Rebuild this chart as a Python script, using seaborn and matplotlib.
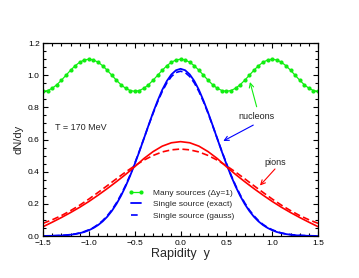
import matplotlib
matplotlib.use("Agg")
import matplotlib.pyplot as plt
from matplotlib.ticker import MultipleLocator
import seaborn as sns

# rapidity grid, step 0.05 (green markers + nucleon curves)
y_fine = [-1.50, -1.45, -1.40, -1.35, -1.30, -1.25, -1.20, -1.15, -1.10, -1.05,
          -1.00, -0.95, -0.90, -0.85, -0.80, -0.75, -0.70, -0.65, -0.60, -0.55,
          -0.50, -0.45, -0.40, -0.35, -0.30, -0.25, -0.20, -0.15, -0.10, -0.05,
          0.00, 0.05, 0.10, 0.15, 0.20, 0.25, 0.30, 0.35, 0.40, 0.45,
          0.50, 0.55, 0.60, 0.65, 0.70, 0.75, 0.80, 0.85, 0.90, 0.95,
          1.00, 1.05, 1.10, 1.15, 1.20, 1.25, 1.30, 1.35, 1.40, 1.45, 1.50]

# rapidity grid, step 0.1 (pion curves)
y_coarse = [-1.5, -1.4, -1.3, -1.2, -1.1, -1.0, -0.9, -0.8, -0.7, -0.6,
            -0.5, -0.4, -0.3, -0.2, -0.1, 0.0, 0.1, 0.2, 0.3, 0.4,
            0.5, 0.6, 0.7, 0.8, 0.9, 1.0, 1.1, 1.2, 1.3, 1.4, 1.5]

many_sources = [0.900, 0.905, 0.919, 0.941, 0.969, 1.000, 1.031, 1.059, 1.081, 1.095,
                1.100, 1.095, 1.081, 1.059, 1.031, 1.000, 0.969, 0.941, 0.919, 0.905,
                0.900, 0.905, 0.919, 0.941, 0.969, 1.000, 1.031, 1.059, 1.081, 1.095,
                1.100, 1.095, 1.081, 1.059, 1.031, 1.000, 0.969, 0.941, 0.919, 0.905,
                0.900, 0.905, 0.919, 0.941, 0.969, 1.000, 1.031, 1.059, 1.081, 1.095,
                1.100, 1.095, 1.081, 1.059, 1.031, 1.000, 0.969, 0.941, 0.919, 0.905,
                0.900]

nucl_exact = [0.000, 0.001, 0.001, 0.002, 0.003, 0.005, 0.008, 0.012, 0.018, 0.025,
              0.036, 0.050, 0.068, 0.091, 0.120, 0.156, 0.199, 0.250, 0.309, 0.375,
              0.448, 0.525, 0.606, 0.688, 0.768, 0.842, 0.909, 0.964, 1.005, 1.031,
              1.040, 1.031, 1.005, 0.964, 0.909, 0.842, 0.768, 0.688, 0.606, 0.525,
              0.448, 0.375, 0.309, 0.250, 0.199, 0.156, 0.120, 0.091, 0.068, 0.050,
              0.036, 0.025, 0.018, 0.012, 0.008, 0.005, 0.003, 0.002, 0.001, 0.001,
              0.000]

nucl_gauss = [0.001, 0.001, 0.002, 0.003, 0.004, 0.006, 0.009, 0.013, 0.019, 0.028,
              0.039, 0.053, 0.072, 0.096, 0.126, 0.162, 0.206, 0.257, 0.315, 0.380,
              0.452, 0.528, 0.607, 0.686, 0.763, 0.835, 0.899, 0.952, 0.992, 1.017,
              1.025, 1.017, 0.992, 0.952, 0.899, 0.835, 0.763, 0.686, 0.607, 0.528,
              0.452, 0.380, 0.315, 0.257, 0.206, 0.162, 0.126, 0.096, 0.072, 0.053,
              0.039, 0.028, 0.019, 0.013, 0.009, 0.006, 0.004, 0.003, 0.002, 0.001,
              0.001]

pion_exact = [0.058, 0.086, 0.115, 0.146, 0.179, 0.215, 0.254, 0.295, 0.338, 0.383,
              0.431, 0.482, 0.525, 0.559, 0.580, 0.587, 0.580, 0.559, 0.525, 0.482,
              0.431, 0.383, 0.338, 0.295, 0.254, 0.215, 0.179, 0.146, 0.115, 0.086,
              0.058]

pion_gauss = [0.079, 0.101, 0.127, 0.158, 0.192, 0.230, 0.271, 0.313, 0.356, 0.398,
              0.437, 0.472, 0.501, 0.523, 0.536, 0.541, 0.536, 0.523, 0.501, 0.472,
              0.437, 0.398, 0.356, 0.313, 0.271, 0.230, 0.192, 0.158, 0.127, 0.101,
              0.079]

GREEN = "#11ee11"
BLUE = "#0000ff"
RED = "#ff0000"

sns.set_style("ticks")
plt.rcParams["font.family"] = ["Liberation Sans", "DejaVu Sans"]

fig = plt.figure(figsize=(3.59, 2.78), dpi=100)
ax = fig.add_axes([0.120, 0.151, 0.766, 0.694])

sns.lineplot(x=y_fine, y=many_sources, ax=ax, color=GREEN, lw=0.9,
             marker="o", markersize=3.0, markeredgewidth=0,
             label="Many sources (\u0394y=1)")
sns.lineplot(x=y_fine, y=nucl_exact, ax=ax, color=BLUE, lw=1.3,
             label="Single source (exact)")
sns.lineplot(x=y_fine, y=nucl_gauss, ax=ax, color=BLUE, lw=1.2,
             dashes=(4, 2), label="Single source (gauss)")
sns.lineplot(x=y_coarse, y=pion_exact, ax=ax, color=RED, lw=1.2)
sns.lineplot(x=y_coarse, y=pion_gauss, ax=ax, color=RED, lw=1.2, dashes=(4, 2))

ax.set_xlim(-1.5, 1.5)
ax.set_ylim(0.0, 1.2)
ax.xaxis.set_major_locator(MultipleLocator(0.5))
ax.xaxis.set_minor_locator(MultipleLocator(0.1))
ax.yaxis.set_major_locator(MultipleLocator(0.2))
ax.yaxis.set_minor_locator(MultipleLocator(0.05))
ax.tick_params(which="both", direction="in", top=True, right=True,
               width=0.8, colors="black", labelsize=6)
ax.tick_params(axis="x", pad=3)
ax.tick_params(axis="y", pad=2.5)
ax.tick_params(which="major", length=3.5)
ax.tick_params(which="minor", length=2)
for s in ax.spines.values():
    s.set_linewidth(0.9)
    s.set_color("black")

ax.set_xlabel("Rapidity  y", fontsize=9, labelpad=0.5)
ax.set_ylabel("dN/dy", fontsize=8, labelpad=3)

ax.text(-1.37, 0.678, "T = 170 MeV", fontsize=6.5, va="center", ha="left")
ax.text(0.83, 0.742, "nucleons", fontsize=6.5, va="center", ha="center", color="#222222")
ax.text(1.03, 0.457, "pions", fontsize=6.5, va="center", ha="center", color="#222222")

arrow = dict(arrowstyle="->", lw=0.8, shrinkA=0, shrinkB=0, mutation_scale=8)
ax.annotate("", xy=(0.757, 0.958), xytext=(0.83, 0.804),
            arrowprops=dict(arrow, color=GREEN))
ax.annotate("", xy=(0.466, 0.591), xytext=(0.793, 0.690),
            arrowprops=dict(arrow, color=BLUE))
ax.annotate("", xy=(0.866, 0.314), xytext=(1.03, 0.417),
            arrowprops=dict(arrow, color=RED))

handles, labels = ax.get_legend_handles_labels()
ax.legend(handles, labels, loc="upper left", bbox_to_anchor=(0.31, 0.245),
          frameon=False, fontsize=6, numpoints=2, handlelength=1.8,
          handletextpad=1.2, labelspacing=0.45, borderpad=0, borderaxespad=0)

fig.savefig("out.png", dpi=100)
